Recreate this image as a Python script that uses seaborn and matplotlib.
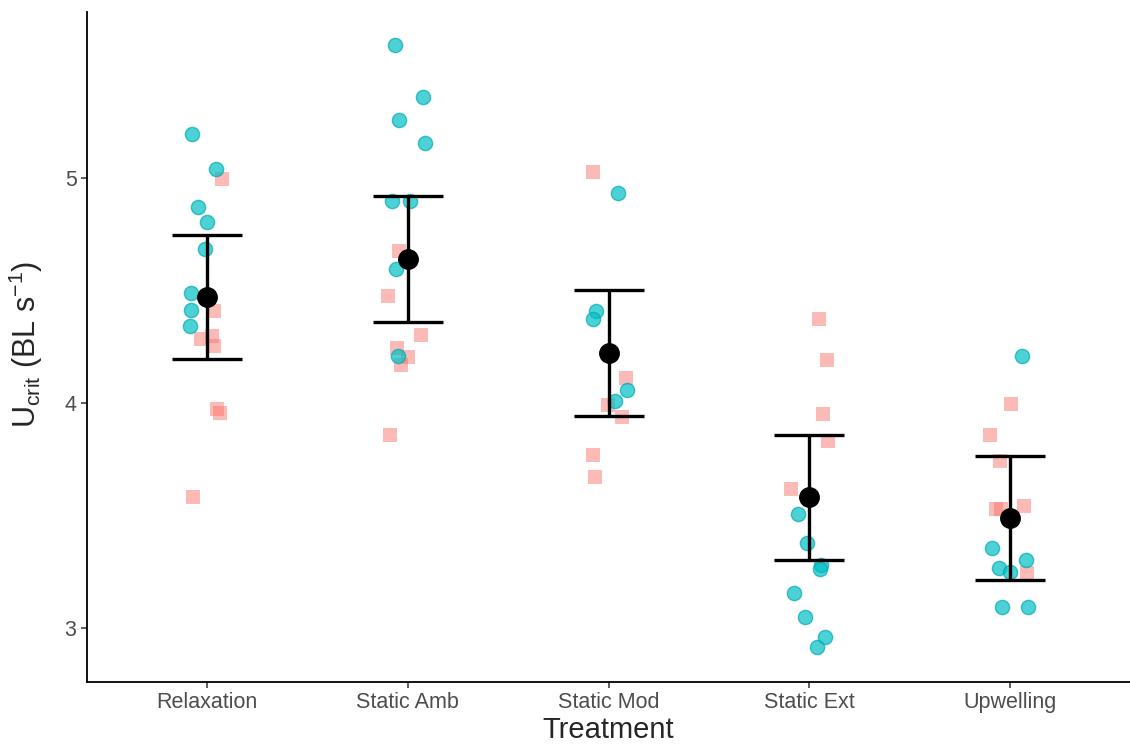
import numpy as np
import pandas as pd
import matplotlib
matplotlib.use("Agg")
import matplotlib.pyplot as plt
import seaborn as sns

# Treatment groups (x axis)
treatments = ["Relaxation", "Static Amb", "Static Mod", "Static Ext", "Upwelling"]

# Circle group: values and horizontal jitter (category units), per treatment
circle_vals = [
    [5.196, 5.041, 4.875, 4.808, 4.686, 4.491, 4.417, 4.343],
    [5.592, 5.361, 5.259, 5.156, 4.900, 4.900, 4.597, 4.213],
    [4.937, 4.412, 4.376, 4.062, 4.010],
    [3.508, 3.380, 3.282, 3.262, 3.159, 3.050, 2.964, 2.919],
    [4.213, 3.357, 3.304, 3.270, 3.249, 3.094, 3.094],
]
circle_jit = [
    [-0.077, 0.045, -0.047, -0.002, -0.013, -0.080, -0.080, -0.088],
    [-0.066, 0.075, -0.043, 0.083, -0.080, 0.012, -0.060, -0.050],
    [0.045, -0.060, -0.076, 0.093, 0.032],
    [-0.055, -0.010, 0.060, 0.053, -0.076, -0.018, 0.078, 0.040],
    [0.062, -0.086, 0.080, -0.055, 0.000, -0.038, 0.092],
]

# Square group
square_vals = [
    [4.996, 4.409, 4.288, 4.298, 4.257, 3.976, 3.959, 3.585],
    [4.678, 4.476, 4.306, 4.247, 4.208, 4.172, 3.861],
    [5.030, 4.114, 3.994, 3.939, 3.772, 3.673],
    [4.376, 4.195, 3.951, 3.831, 3.619],
    [3.996, 3.858, 3.743, 3.530, 3.530, 3.545, 3.245],
]
square_jit = [
    [0.075, 0.033, -0.030, 0.023, 0.033, 0.050, 0.061, -0.072],
    [-0.046, -0.100, 0.065, -0.055, -0.001, -0.033, -0.088],
    [-0.076, 0.085, -0.001, 0.068, -0.076, -0.068],
    [0.048, 0.090, 0.070, 0.095, -0.090],
    [0.005, -0.100, -0.050, -0.070, -0.041, 0.070, 0.088],
]

# Treatment means and error half-widths
means = [4.474, 4.642, 4.225, 3.582, 3.491]
errs = [0.276, 0.278, 0.279, 0.277, 0.276]

rows = []
for i, t in enumerate(treatments):
    for v, j in zip(circle_vals[i], circle_jit[i]):
        rows.append({"Treatment": t, "pos": i + j, "Ucrit": v, "group": "circle"})
    for v, j in zip(square_vals[i], square_jit[i]):
        rows.append({"Treatment": t, "pos": i + j, "Ucrit": v, "group": "square"})
df = pd.DataFrame(rows)

sns.set_style("ticks")
plt.rcParams["font.family"] = ["Liberation Sans", "DejaVu Sans"]
plt.rcParams["mathtext.default"] = "regular"

fig = plt.figure(figsize=(11.3, 7.5), dpi=100)
ax = fig.add_axes([0.077, 0.091, 0.923, 0.893])

sq = df[df["group"] == "square"]
ci = df[df["group"] == "circle"]
sns.scatterplot(data=sq, x="pos", y="Ucrit", marker="s", s=95, color="#F8766D",
                alpha=0.5, linewidth=0, ax=ax, zorder=2)
sns.scatterplot(data=ci, x="pos", y="Ucrit", marker="o", s=105, color="#00BFC4",
                alpha=0.7, edgecolor="#00A9B8", linewidth=1.0, ax=ax, zorder=3)

# mean +/- error
ax.errorbar(np.arange(len(treatments)), means, yerr=errs, fmt="o", color="black",
            markersize=14, elinewidth=2.4, capsize=25, capthick=2.4, zorder=5)

ax.set_xlim(-0.6, 4.6)
ax.set_ylim(2.763, 5.74)
ax.set_xticks(np.arange(len(treatments)))
ax.set_xticklabels(treatments)
ax.set_yticks([3, 4, 5])
ax.set_yticklabels(["3", "4", "5"])
ax.tick_params(axis="both", labelsize=15.5, labelcolor="#4D4D4D", color="#333333",
               length=4, width=1.1)

for side in ["top", "right"]:
    ax.spines[side].set_visible(False)
for side in ["left", "bottom"]:
    ax.spines[side].set_color("black")
    ax.spines[side].set_linewidth(1.3)

ax.set_xlabel("Treatment", fontsize=21, labelpad=2)
ax.set_ylabel(r"$U_{crit}$ (BL s$^{-1}$)", fontsize=22)
ax.yaxis.set_label_coords(-0.040, 0.503)
if ax.get_legend() is not None:
    ax.get_legend().remove()

fig.savefig("out.png", dpi=100)
